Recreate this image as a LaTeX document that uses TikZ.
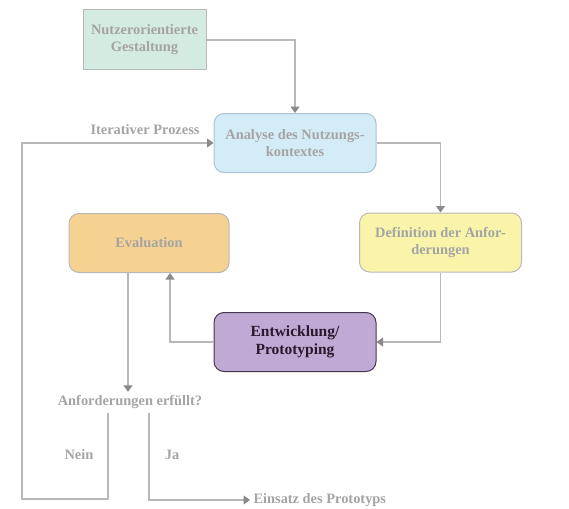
\documentclass[tikz,border=0pt]{standalone}
\usepackage{fontspec}
\setmainfont{Liberation Serif}
\usetikzlibrary{arrows.meta,calc}
\definecolor{txtgray}{HTML}{A4A4A4}
\definecolor{linegray}{HTML}{B8B8B8}
\definecolor{tipgray}{HTML}{8A8A8A}
\begin{document}
\begin{tikzpicture}
  [x=1pt,y=-1pt,
   every node/.style={font=\bfseries\fontsize{14.4}{17}\selectfont,text=txtgray,align=center},
   box/.style={draw=linegray,line width=1pt,rounded corners=10pt,minimum width=162pt,minimum height=59pt},
   link/.style={draw=linegray,line width=1.2pt,-{Triangle[width=9pt,length=6.5pt,color=tipgray]}}]
  \useasboundingbox (0,0) rectangle (569,508);
  \node[draw=linegray,line width=1pt,fill={rgb,255:red,211;green,235;blue,224},minimum width=123pt,minimum height=60pt] (gest) at (144.5,40) {Nutzerorientierte\\Gestaltung};
  \node[box,fill={rgb,255:red,212;green,236;blue,248},draw={rgb,255:red,168;green,196;blue,212}] (ana) at (295,143) {Analyse des Nutzungs-\\kontextes};
  \node[box,fill={rgb,255:red,250;green,244;blue,170}] (def) at (440.5,242.5) {Definition der Anfor-\\derungen};
  \node[box,fill={rgb,255:red,245;green,210;blue,146},minimum width=160pt] (eval) at (149,243) {Evaluation};
  \node[box,fill={rgb,255:red,192;green,170;blue,212},draw={rgb,255:red,70;green,55;blue,80},text={rgb,255:red,40;green,25;blue,45},font=\bfseries\fontsize{15.5}{18.5}\selectfont] (ent) at (295,342) {Entwicklung/\\Prototyping};
  \node (frage) at (130,402) {Anforderungen erfüllt?};
  \node[anchor=west] (einsatz) at (250,500) {Einsatz des Prototyps};
  \node (iter) at (145,130) {Iterativer Prozess};
  \node (nein) at (79,455) {Nein};
  \node (ja) at (172,455) {Ja};

  \coordinate (evup) at ($(eval.south)+(21,0)$);
  \coordinate (evdown) at ($(eval.south)+(-21,0)$);
  \coordinate (nstart) at (108,413);
  \coordinate (jstart) at (149,413);
  \coordinate (lp) at (22,499);

  \draw[link] (gest.east) -| (ana.north);
  \draw[link] (ana.east) -| (def.north);
  \draw[link] (def.south) |- (ent.east);
  \draw[link] (ent.west) -| (evup);
  \draw[link] (evdown) -- (evdown |- frage.north);
  \draw[link] (nstart) |- (lp) |- (ana.west);
  \draw[link] (jstart) |- (einsatz.west);
\end{tikzpicture}
\end{document}
